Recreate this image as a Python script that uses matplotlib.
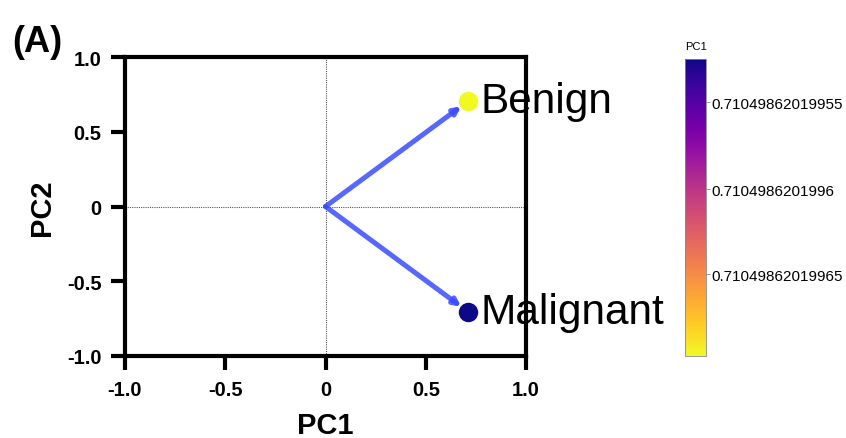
"""PCA loading plot (A) with PC1 colour bar."""
import matplotlib
matplotlib.use("Agg")
import matplotlib.pyplot as plt
from matplotlib.colors import Normalize
from matplotlib.cm import ScalarMappable

plt.rcParams["font.family"] = ["Liberation Sans", "DejaVu Sans"]

# loadings
labels = ["Benign", "Malignant"]
pc1 = [0.7104986201996, 0.7104986201996]
pc2 = [0.7036990, -0.7036990]
point_colors = ["#f0f921", "#0d0887"]

axis_ticks = [-1.0, -0.5, 0.0, 0.5, 1.0]
axis_ticklabels = ["-1.0", "-0.5", "0", "0.5", "1.0"]

# colour bar ticks (fraction from top of bar) and their labels
cbar_tick_pos = [0.145, 0.438, 0.724]
cbar_ticklabels = ["0.71049862019955", "0.7104986201996", "0.71049862019965"]

fig = plt.figure(figsize=(8.46, 4.39), dpi=100)
ax = fig.add_axes([125 / 846, 82 / 439, 401 / 846, 299 / 439])

ax.axhline(0, color="#555555", lw=0.8, ls=(0, (1, 1)), zorder=1)
ax.axvline(0, color="#555555", lw=0.8, ls=(0, (1, 1)), zorder=1)

for x, y in zip(pc1, pc2):
    ax.annotate("", xy=(x, y), xytext=(0, 0),
                arrowprops=dict(arrowstyle="-|>,head_length=0.4,head_width=0.2",
                                color="#3a4cff", lw=3.6, alpha=0.85,
                                shrinkA=0, shrinkB=6), zorder=2)
for x, y, c, lab in zip(pc1, pc2, point_colors, labels):
    ax.plot(x, y, "o", ms=14, color=c, mec="none", zorder=3)
    ax.annotate(lab, (x, y), xytext=(9, 0), textcoords="offset points",
                fontsize=30.5, va="center", ha="left", clip_on=False, zorder=4)

ax.set_xlim(-1, 1)
ax.set_ylim(-1, 1)
ax.set_xticks(axis_ticks)
ax.set_xticklabels(axis_ticklabels)
ax.set_yticks(axis_ticks)
ax.set_yticklabels(axis_ticklabels)
for s in ax.spines.values():
    s.set_linewidth(3)
ax.tick_params(width=3, length=10, labelsize=14.5, pad=7)
for t in ax.get_xticklabels() + ax.get_yticklabels():
    t.set_fontweight("bold")
ax.set_xlabel("PC1", fontsize=21, fontweight="bold", labelpad=9)
ax.set_ylabel("PC2", fontsize=21, fontweight="bold", labelpad=8)

fig.text(12 / 846, 1 - 52 / 439, "(A)", fontsize=26, fontweight="bold")

# colour bar
cax = fig.add_axes([685 / 846, 82 / 439, 21 / 846, 297 / 439])
sm = ScalarMappable(norm=Normalize(0, 1), cmap="plasma")
cb = fig.colorbar(sm, cax=cax)
cax.invert_yaxis()
cb.set_ticks(cbar_tick_pos)
cb.set_ticklabels(cbar_ticklabels)
cb.outline.set_linewidth(0.6)
cb.outline.set_edgecolor("#888888")
cax.tick_params(labelsize=11, length=3, width=0.6, color="#888888", pad=1)
cax.set_title("PC1", fontsize=8, pad=7)

fig.savefig("out.png", dpi=100)
